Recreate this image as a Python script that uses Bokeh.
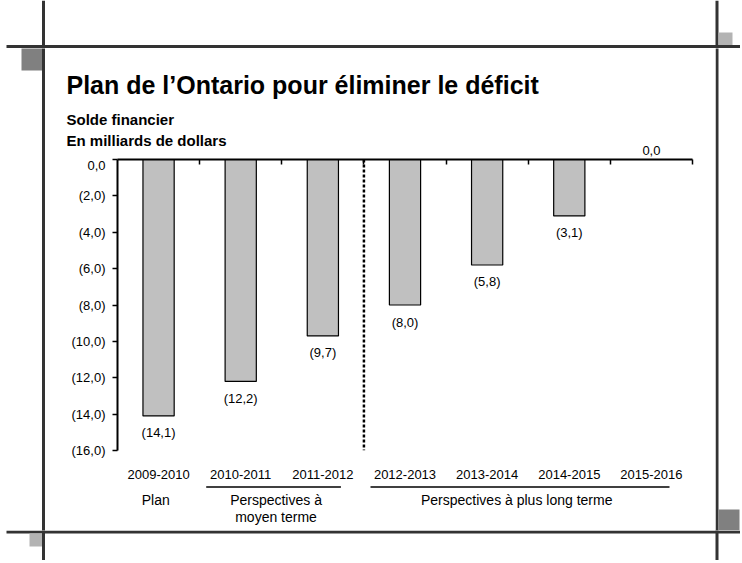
from bokeh.plotting import figure
from bokeh.layouts import column, row
from bokeh.models import (Range1d, LinearAxis, FixedTicker, Span, LabelSet,
                          ColumnDataSource)
from bokeh.core.properties import value
from bokeh.embed import file_html
from bokeh.resources import INLINE

# ---------------- data ----------------
categories = ["2009-2010", "2010-2011", "2011-2012", "2012-2013",
              "2013-2014", "2014-2015", "2015-2016"]
values = [-14.1, -12.2, -9.7, -8.0, -5.8, -3.1, 0.0]
y_ticks = [0, -2, -4, -6, -8, -10, -12, -14, -16]
y_tick_labels = ["0,0", "(2,0)", "(4,0)", "(6,0)", "(8,0)",
                 "(10,0)", "(12,0)", "(14,0)", "(16,0)"]
group_names = ["Plan", "Perspectives à\nmoyen terme", "Perspectives à plus long terme"]
group_first = [0, 1, 3]
group_last = [0, 2, 6]
group_underlined = [False, True, True]
divider_after = 3
title_text = "Plan de l’Ontario pour éliminer le déficit"
subtitle1 = "Solde financier"
subtitle2 = "En milliards de dollars"

# ---------------- geometry (page pixels) ----------------
FONT = "Liberation Sans"
N = len(categories)
YMIN, YMAX = -16, 0
PL, PR, PT, PB = 117, 692, 159, 450          # chart frame
SX = (PR - PL) / N
SY = (PB - PT) / (YMAX - YMIN)
TOTAL_W, TOTAL_H = 740, 560
MAIN_L, MAIN_R = 45, 715
TOP_H, MAIN_B = 48, 530
HEAD_B, CHART_B = 157, 485


def X(px):
    return (px - PL) / SX


def Y(py):
    return YMAX - (py - PT) / SY


def fmt(v):
    s = f"{abs(v):.1f}".replace(".", ",")
    return f"({s})" if v < 0 else s


def blank(w, h, xr, yr):
    f = figure(width=w, height=h, x_range=xr, y_range=yr, output_backend="svg",
               toolbar_location=None, x_axis_location=None, y_axis_location=None,
               min_border=0, frame_align=False, title=None)
    f.outline_line_color = None
    f.background_fill_color = "white"
    f.border_fill_color = "white"
    f.grid.visible = False
    return f


# decorative frame (page px): left, right, top, bottom, colour
deco = [
    (41.5, 44.5, 0, 563, "#333333"),
    (715, 718, 0, 563, "#333333"),
    (6, 742, 44.5, 47.5, "#333333"),
    (6, 742, 530, 533, "#333333"),
    (21, 41.5, 47.5, 70, "#808080"),
    (718, 732, 32, 44.5, "#b3b3b3"),
    (29, 41.5, 533, 546, "#b3b3b3"),
    (718, 739, 509, 530, "#808080"),
]


def strip(x0, x1, y0, y1):
    f = blank(x1 - x0, y1 - y0, Range1d(x0, x1), Range1d(y1, y0))
    f.quad(left=[d[0] for d in deco], right=[d[1] for d in deco],
           top=[d[2] for d in deco], bottom=[d[3] for d in deco],
           fill_color=[d[4] for d in deco], line_color=None)
    return f


top_strip = strip(0, TOTAL_W, 0, TOP_H)
left_strip = strip(0, MAIN_L, TOP_H, MAIN_B)
right_strip = strip(MAIN_R, TOTAL_W, TOP_H, MAIN_B)
bottom_strip = strip(0, TOTAL_W, MAIN_B, TOTAL_H)

# ---------------- header (title, subtitles, zero label) ----------------
head = blank(MAIN_R - MAIN_L, HEAD_B - TOP_H, Range1d(X(MAIN_L), X(MAIN_R)),
             Range1d(Y(HEAD_B), Y(TOP_H)))
head.text(x=[X(66)], y=[Y(84)], text=[title_text], text_font=value(FONT),
          text_font_style="bold", text_font_size="25px", text_color="black",
          text_baseline="middle")
head.text(x=[X(66), X(66)], y=[Y(118.5), Y(139.5)], text=[subtitle1, subtitle2],
          text_font=value(FONT), text_font_style="bold", text_font_size="15px",
          text_color="black", text_baseline="middle")
zx = [i + 0.5 for i, v in enumerate(values) if v >= 0]
zv = [v for v in values if v >= 0]
head.text(x=zx, y=zv, text=[fmt(v) for v in zv], y_offset=-9.5,
          text_font=value(FONT), text_font_size="13px", text_color="black",
          text_align="center", text_baseline="middle")

# ---------------- chart ----------------
p = figure(width=MAIN_R - MAIN_L, height=CHART_B - HEAD_B,
           x_range=Range1d(0, N), y_range=Range1d(YMIN, YMAX),
           output_backend="svg", toolbar_location=None, title=None,
           x_axis_location=None, y_axis_location=None, frame_align=False,
           min_border_left=PL - MAIN_L, min_border_right=MAIN_R - PR,
           min_border_top=PT - HEAD_B, min_border_bottom=CHART_B - PB)
p.outline_line_color = None
p.background_fill_color = "white"
p.border_fill_color = "white"
p.grid.visible = False

ya = LinearAxis(ticker=FixedTicker(ticks=y_ticks, minor_ticks=[]))
ya.major_label_overrides = {t: s for t, s in zip(y_ticks, y_tick_labels)}
ya.axis_line_color = "black"
ya.axis_line_width = 2
ya.major_tick_line_color = "black"
ya.major_tick_line_width = 1.5
ya.major_tick_out = 5
ya.major_tick_in = 0
ya.minor_tick_line_color = None
ya.major_label_standoff = 7
ya.major_label_text_font = FONT
ya.major_label_text_font_size = "13px"
ya.major_label_text_color = "black"
p.add_layout(ya, "left")

ta = LinearAxis(ticker=FixedTicker(ticks=[], minor_ticks=list(range(1, N + 1))))
ta.axis_line_color = "black"
ta.axis_line_width = 2
ta.major_tick_line_color = None
ta.major_tick_in = 0
ta.major_tick_out = 0
ta.minor_tick_line_color = "black"
ta.minor_tick_line_width = 1.5
ta.minor_tick_in = 5
ta.minor_tick_out = 0
ta.major_label_standoff = 0
ta.major_label_text_font_size = "1px"
ta.major_label_text_color = None
p.add_layout(ta, "above")

centers = [i + 0.5 for i in range(N)]
ba = LinearAxis(ticker=FixedTicker(ticks=centers, minor_ticks=[]))
ba.major_label_overrides = {c: s for c, s in zip(centers, categories)}
ba.axis_line_color = None
ba.major_tick_line_color = None
ba.minor_tick_line_color = None
ba.major_tick_out = 0
ba.major_tick_in = 0
ba.major_label_standoff = 19
ba.major_label_text_font = FONT
ba.major_label_text_font_size = "13px"
ba.major_label_text_color = "black"
p.add_layout(ba, "below")

p.vbar(x=centers, top=[0] * N, bottom=values, width=0.38,
       fill_color="#c0c0c0", line_color="black", line_width=1.2)

p.add_layout(Span(location=divider_after, dimension="height", line_color="black",
                  line_width=2.5, line_dash="3 2"))

neg = [i for i, v in enumerate(values) if v < 0]
src = ColumnDataSource(dict(x=[centers[i] for i in neg], y=[values[i] for i in neg],
                            text=[fmt(values[i]) for i in neg]))
p.add_layout(LabelSet(x="x", y="y", text="text", source=src, y_offset=-17,
                      text_align="center", text_baseline="middle",
                      text_font=value(FONT), text_font_size="13px",
                      text_color="black"))

# ---------------- group labels ----------------
grp = blank(MAIN_R - MAIN_L, MAIN_B - CHART_B, Range1d(X(MAIN_L), X(MAIN_R)),
            Range1d(Y(MAIN_B), Y(CHART_B)))
gx, gy, gt = [], [], []
ux0, ux1 = [], []
for name, a, b, u in zip(group_names, group_first, group_last, group_underlined):
    n = b - a + 1
    cx = (a + b + 1) / 2 - 0.035 * n
    for k, line in enumerate(name.split("\n")):
        gx.append(cx)
        gy.append(Y(499 + 17 * k))
        gt.append(line)
    if u:
        ux0.append(a + 0.08)
        ux1.append(b + 0.72)
grp.text(x=gx, y=gy, text=gt, text_font=value(FONT), text_font_size="14px",
         text_color="black", text_align="center", text_baseline="middle")
grp.segment(x0=ux0, x1=ux1, y0=[Y(486.5)] * len(ux0), y1=[Y(486.5)] * len(ux0),
            line_color="black", line_width=1.3)

layout = column(
    top_strip,
    row(left_strip, column(head, p, grp, spacing=0), right_strip, spacing=0),
    bottom_strip,
    spacing=0,
)

open("out.html", "w").write(file_html(layout, INLINE))
